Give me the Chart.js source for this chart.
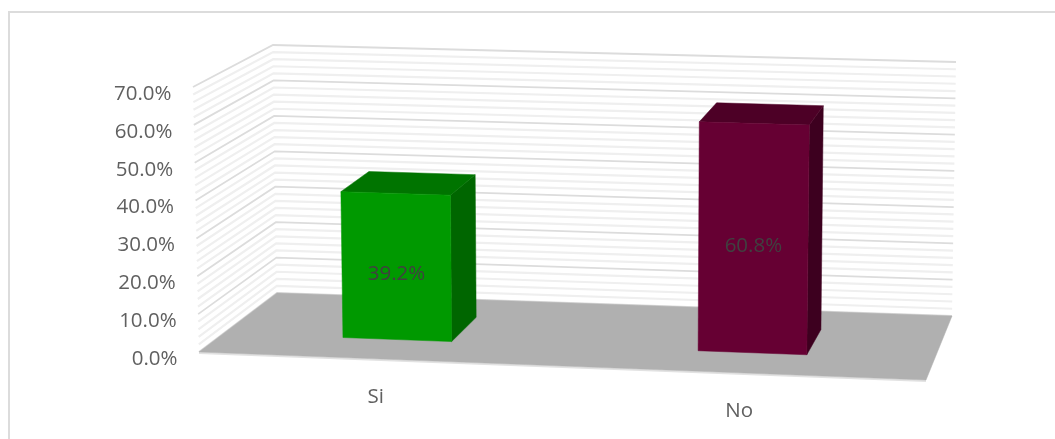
<!DOCTYPE html>
<html>
<head>
<meta charset="utf-8">
<title>Si / No</title>
<style>
  html, body { margin: 0; padding: 0; background: #fff; overflow: hidden; }
  #wrap { position: relative; width: 1055px; height: 439px; }
  #frame { position: absolute; left: 8px; top: 11px; right: 0; bottom: 0; border-top: 2px solid #dcdcdc; border-left: 2px solid #dcdcdc; }
  canvas { position: absolute; left: 0; top: 0; }
</style>
<script src="https://cdn.jsdelivr.net/npm/chart.js@4"></script>
</head>
<body>
<div id="wrap">
  <div id="frame"></div>
  <canvas id="grafico" width="1055" height="439"></canvas>
</div>
<script>
// data
const categories = ['Si', 'No'];
const values = [39.2, 60.8];
const axisMax = 70;
const majorStep = 10;
const minorStep = 2;

// colours of the bar faces
const frontColors = ['#009900', '#660033'];
const topColors = ['#007400', '#4d0026'];
const sideColors = ['#006600', '#3d001f'];

// corners of the 3D box, [x, y] on screen. f = front, b = back, l/r, 0 = floor, 1 = top
const box = {
    fl0: [199, 352], fr0: [926, 380], bl0: [277, 293], br0: [952, 316],
    fl1: [193, 87], fr1: [931, 109], bl1: [273, 45], br1: [956, 62]
};
const barDepth = [0.32, 0.72];
const barShift = -0.006; // bars sit a little left of the category centre

function lerp(a, b, t) { return a + (b - a) * t; }

// u across, t up, d into the box, all 0..1
function project(u, t, d) {
    const out = [];
    for (let i = 0; i < 2; i++) {
        const f0 = lerp(box.fl0[i], box.fr0[i], u);
        const b0 = lerp(box.bl0[i], box.br0[i], u);
        const f1 = lerp(box.fl1[i], box.fr1[i], u);
        const b1 = lerp(box.bl1[i], box.br1[i], u);
        out.push(lerp(lerp(f0, b0, d), lerp(f1, b1, d), t));
    }
    return out;
}

function poly(ctx, pts, fill) {
    ctx.beginPath();
    pts.forEach((p, i) => i ? ctx.lineTo(p[0], p[1]) : ctx.moveTo(p[0], p[1]));
    ctx.closePath();
    ctx.fillStyle = fill;
    ctx.fill();
    ctx.strokeStyle = fill;
    ctx.lineWidth = 0.5;
    ctx.stroke();
}

const box3d = {
    id: 'box3d',
    beforeDatasetsDraw(chart) {
        const ctx = chart.ctx;
        const area = chart.chartArea;
        const yScale = chart.scales.y;
        const toT = v => (area.bottom - yScale.getPixelForValue(v)) / area.height;
        ctx.save();

        // walls: minor lines first, majors on top
        const wallLine = (v, color, width) => {
            const t = toT(v);
            const a = project(0, t, 0), b = project(0, t, 1), c = project(1, t, 1);
            ctx.beginPath();
            ctx.moveTo(a[0], a[1]);
            ctx.lineTo(b[0], b[1]);
            ctx.lineTo(c[0], c[1]);
            ctx.strokeStyle = color;
            ctx.lineWidth = width;
            ctx.stroke();
        };
        for (let v = 0; v <= axisMax; v += minorStep) {
            if (v % majorStep) wallLine(v, '#efefef', 2.2);
        }
        for (let v = 0; v <= axisMax; v += majorStep) {
            wallLine(v, '#dcdcdc', 1.8);
        }

        // floor
        ctx.beginPath();
        ctx.moveTo(box.fl0[0], box.fl0[1] + 1);
        ctx.lineTo(box.fr0[0], box.fr0[1] + 1);
        ctx.strokeStyle = '#e2e2e2';
        ctx.lineWidth = 2;
        ctx.stroke();
        poly(ctx, [box.fl0, box.fr0, box.br0, box.bl0], '#b0b0b0');

        // bars, positions from the library's bar elements
        const bars = chart.getDatasetMeta(0).data;
        bars.forEach((bar, i) => {
            const u0 = (bar.x - bar.width / 2 - area.left) / area.width + barShift;
            const u1 = (bar.x + bar.width / 2 - area.left) / area.width + barShift;
            const t = (bar.base - bar.y) / area.height;
            const d0 = barDepth[0], d1 = barDepth[1];
            poly(ctx, [project(u1, 0, d0), project(u1, 0, d1), project(u1, t, d1), project(u1, t, d0)], sideColors[i]);
            poly(ctx, [project(u0, t, d0), project(u1, t, d0), project(u1, t, d1), project(u0, t, d1)], topColors[i]);
            poly(ctx, [project(u0, 0, d0), project(u1, 0, d0), project(u1, t, d0), project(u0, t, d0)], frontColors[i]);
        });
        ctx.restore();
        return false;
    },
    afterDraw(chart) {
        const ctx = chart.ctx;
        const area = chart.chartArea;
        const yScale = chart.scales.y;
        const xScale = chart.scales.x;
        ctx.save();
        ctx.textBaseline = 'middle';
        ctx.font = '20.5px "Open Sans"';
        ctx.fillStyle = '#606060';

        // y labels run along the front edge of the left wall
        ctx.textAlign = 'right';
        yScale.ticks.forEach(tick => {
            const t = (area.bottom - yScale.getPixelForValue(tick.value)) / area.height;
            const p = project(0, t, 0);
            ctx.fillText(tick.label, p[0] - 21.5, p[1] + 7);
        });

        // category labels under the tilted front edge
        ctx.textAlign = 'center';
        categories.forEach((c, i) => {
            const u = (xScale.getPixelForValue(i) - area.left) / area.width;
            const p = project(u, 0, 0);
            ctx.fillText(c, p[0] - 5, p[1] + 38.5);
        });

        // value labels in the middle of the front face
        ctx.fillStyle = '#404040';
        chart.getDatasetMeta(0).data.forEach((bar, i) => {
            const u = (bar.x - area.left) / area.width + barShift;
            const t = (bar.base - bar.y) / area.height / 2;
            const p = project(u, t, barDepth[0]);
            ctx.fillText(values[i].toFixed(1) + '%', p[0], p[1] + 8);
        });
        ctx.restore();
    }
};

new Chart(document.getElementById('grafico'), {
    type: 'bar',
    data: {
        labels: categories,
        datasets: [{
            data: values,
            backgroundColor: frontColors,
            categoryPercentage: 1,
            barPercentage: 0.306
        }]
    },
    options: {
        responsive: false,
        animation: false,
        // chart area = front plane of the box
        layout: { padding: { left: 199, right: 129, top: 87, bottom: 87 } },
        plugins: { legend: { display: false }, tooltip: { enabled: false } },
        scales: {
            x: { grid: { display: false }, border: { display: false }, ticks: { display: false } },
            y: {
                min: 0,
                max: axisMax,
                grid: { display: false },
                border: { display: false },
                ticks: { display: false, stepSize: majorStep, callback: v => v.toFixed(1) + '%' }
            }
        }
    },
    plugins: [box3d]
});
</script>
</body>
</html>
